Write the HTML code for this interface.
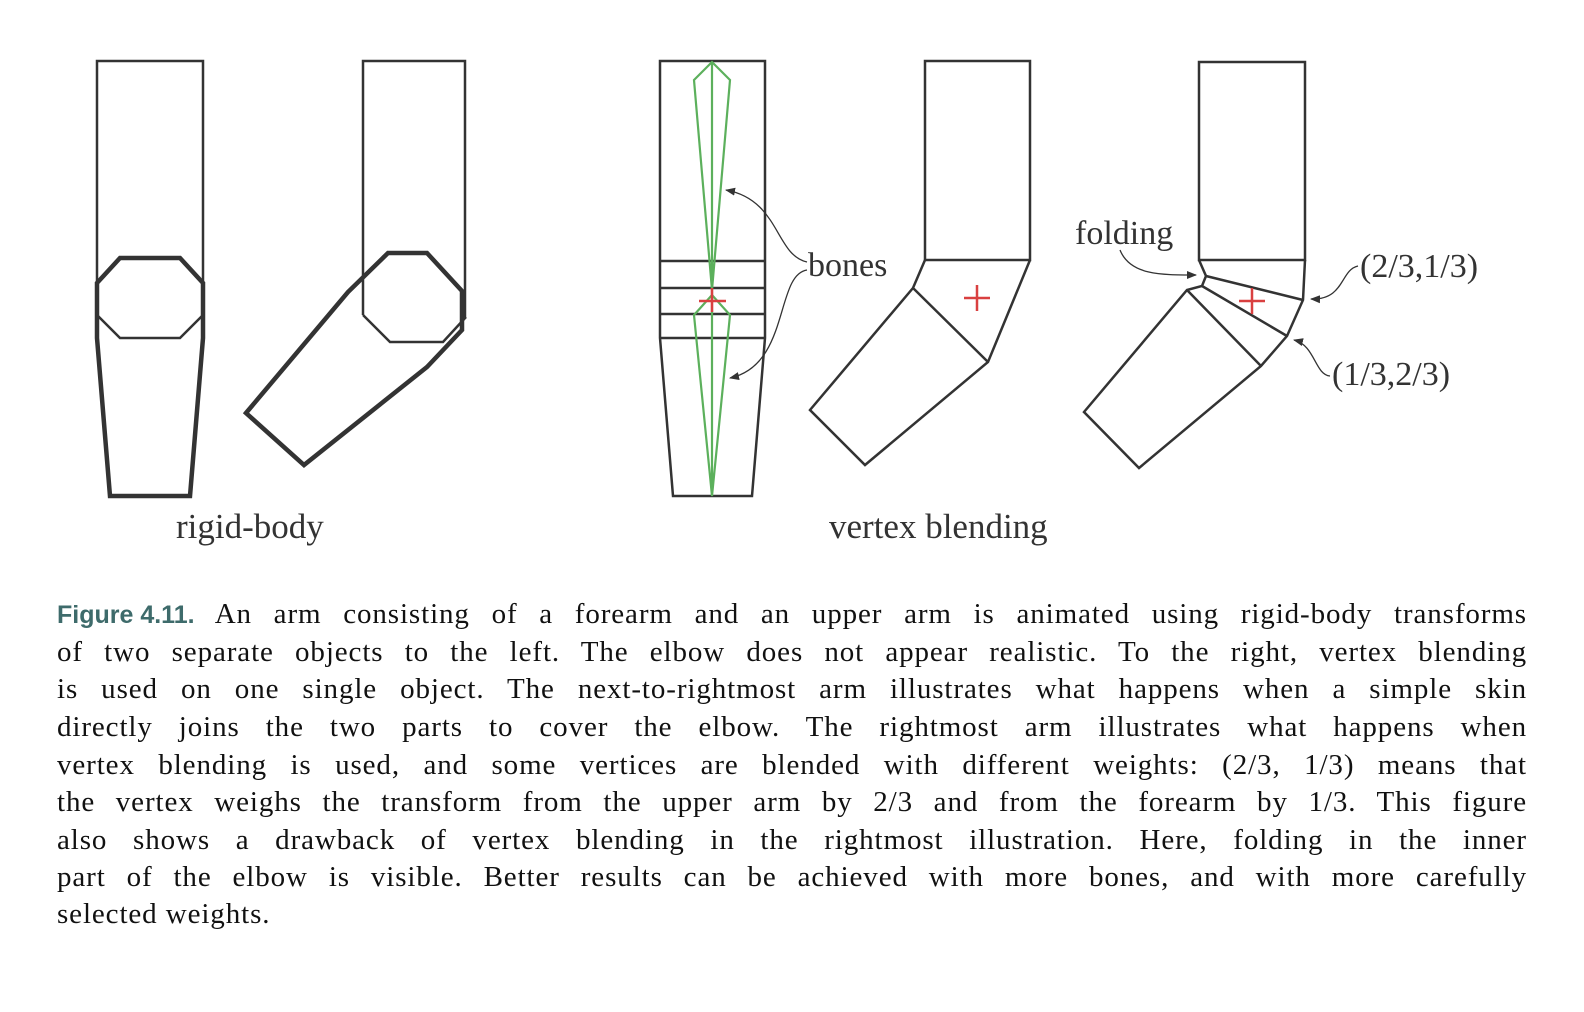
<!DOCTYPE html>
<html><head><meta charset="utf-8"><style>
body{margin:0;background:#fff;width:1584px;height:1012px;overflow:hidden;position:relative;font-family:"Liberation Serif",serif}
svg{position:absolute;left:0;top:0}
.cap{position:absolute;left:57px;width:1470px;font-size:29px;letter-spacing:0.9px;line-height:37.6px;color:#111;text-align:justify;text-align-last:justify;white-space:nowrap}
.cap.last{text-align-last:left}
.fig{display:inline-block;font-family:"Liberation Sans",sans-serif;font-weight:bold;color:#3e6b6b;font-size:25px;letter-spacing:0}
</style></head><body>
<svg width="1584" height="1012" fill="none" stroke-linejoin="miter">
<defs><marker id="ah" markerWidth="10" markerHeight="8" refX="9" refY="4" orient="auto" markerUnits="userSpaceOnUse"><path d="M0,0 L10,4 L0,8 Z" fill="#333"/></marker></defs>
<g stroke="#333">
<path d="M97,315 V61 H203 V315" stroke-width="2.5"/>
<path d="M97,315 L120,338 H180 L203,315" stroke-width="2.5"/>
<path d="M97,283 L120,258 H180 L203,283 V338 L190,496 H110 L97,338 Z" stroke-width="4.5"/>
</g>
<g stroke="#333">
<path d="M363,315 V61 H465 V317" stroke-width="2.5"/>
<path d="M363,315 L390,342 H443 L466,317" stroke-width="2.5"/>
<path d="M246,413 L348,292 L388,253 H427 L462,291 V330 L427,367 L304,465 Z" stroke-width="4.5"/>
</g>
<g>
<path d="M660,338 V61 H765 V338 L752,496 H673 Z M660,261 H765 M660,288 H765 M660,314 H765 M660,338 H765" stroke="#333" stroke-width="2.5"/>
<path d="M712,62 L694,80 L712,290 L730,80 Z M712,62 V496 M712,295 L694,315 L712,496 L730,315 Z" stroke="#5cb05c" stroke-width="2.2"/>
<path d="M699,301 H726 M712,288 V312" stroke="#d94040" stroke-width="2.5"/>
<path d="M807,262 C775,255 780,200 726,190" stroke="#333" stroke-width="1.3" marker-end="url(#ah)"/>
<path d="M807,270 C775,275 790,365 730,378" stroke="#333" stroke-width="1.3" marker-end="url(#ah)"/>
</g>
<g stroke="#333" stroke-width="2.5">
<path d="M925,260 V61 H1030 V260 Z"/>
<path d="M925,260 L913,288 L810,410 L865,465 L988,362 L1030,260 M913,288 L988,362"/>
<path d="M964,298 H990 M977,285 V311" stroke="#d94040"/>
</g>
<g stroke="#333" stroke-width="2.5">
<path d="M1199,260 V62 H1305 V260 Z"/>
<path d="M1199,260 L1206,276 L1202,286 L1187,290 L1084,412 L1139,468 L1261,366 L1287,336 L1303,300 L1305,260"/>
<path d="M1206,276 L1303,300 M1202,286 L1287,336 M1187,290 L1261,366"/>
<path d="M1239,301 H1265 M1252,288 V314" stroke="#d94040"/>
<path d="M1120,250 C1130,275 1160,275 1196,275" stroke-width="1.3" marker-end="url(#ah)"/>
<path d="M1358,266 C1340,270 1345,300 1311,299" stroke-width="1.3" marker-end="url(#ah)"/>
<path d="M1330,376 C1315,375 1315,345 1294,340" stroke-width="1.3" marker-end="url(#ah)"/>
</g>
<g font-family="Liberation Serif, serif" font-size="34" fill="#333" stroke="none">
<text x="808" y="276">bones</text>
<text x="1075" y="244">folding</text>
<text x="1360" y="277">(2/3,1/3)</text>
<text x="1332" y="385">(1/3,2/3)</text>
<text x="176" y="538" font-size="35">rigid-body</text>
<text x="829" y="538" font-size="35">vertex blending</text>
</g>
</svg>
<div>
<div class="cap" style="top:596px"><span class="fig">Figure&nbsp;4.11.</span> An arm consisting of a forearm and an upper arm is animated using rigid-body transforms</div>
<div class="cap" style="top:634px">of two separate objects to the left. The elbow does not appear realistic. To the right, vertex blending</div>
<div class="cap" style="top:671px">is used on one single object. The next-to-rightmost arm illustrates what happens when a simple skin</div>
<div class="cap" style="top:709px">directly joins the two parts to cover the elbow. The rightmost arm illustrates what happens when</div>
<div class="cap" style="top:747px">vertex blending is used, and some vertices are blended with different weights: (2/3,&nbsp;1/3) means that</div>
<div class="cap" style="top:784px">the vertex weighs the transform from the upper arm by 2/3 and from the forearm by 1/3. This figure</div>
<div class="cap" style="top:822px">also shows a drawback of vertex blending in the rightmost illustration. Here, folding in the inner</div>
<div class="cap" style="top:859px">part of the elbow is visible. Better results can be achieved with more bones, and with more carefully</div>
<div class="cap last" style="top:896px">selected weights.</div>
</div>
</body></html>
